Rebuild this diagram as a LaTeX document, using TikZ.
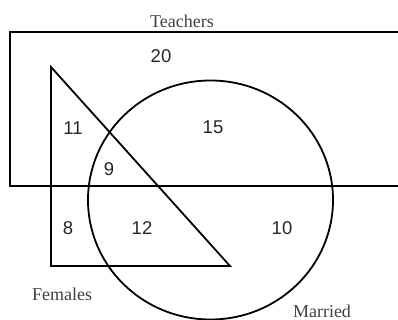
\documentclass[tikz,border=0pt]{standalone}
\usepackage{fontspec}
\setmainfont{Liberation Serif}
\newfontfamily\numfont{Liberation Sans}
\begin{document}
\begin{tikzpicture}[x=1pt,y=-1pt,
  shape line/.style={line width=1.8pt,black},
  setlabel/.style={font=\fontsize{18}{20}\selectfont, text=black!75, inner sep=0pt},
  count/.style={font=\numfont\fontsize{18.5}{20}\selectfont, text=black!85, inner sep=0pt}]
\useasboundingbox (0,0) rectangle (398,320);
\begin{scope}
\clip (0,0) rectangle (398,320);
% Teachers rectangle (right side runs off the picture)
\coordinate (rtr) at (402,32);
\coordinate (rtl) at (10,32);
\coordinate (rbl) at (10,186);
\coordinate (rbr) at (402,186);
\draw[shape line] (rtr) -- (rtl) -- (rbl) -- (rbr);
% Females triangle
\coordinate (ta) at (51,67);
\coordinate (tb) at (51,266);
\coordinate (tc) at (230,266);
\draw[shape line, line join=miter] (ta) -- (tb) -- (tc) -- cycle;
% Married circle
\coordinate (mc) at (210.5,200);
\draw[shape line] (mc) ellipse [x radius=122.5, y radius=119.5];
\end{scope}
% set labels
\node[setlabel] (teachers) at (182,21) {Teachers};
\node[setlabel] (females) at (62,294) {Females};
\node[setlabel] (married) at (322,311) {Married};
% region counts
\node[count] (n20) at (161,56) {20};
\node[count] (n11) at (73,128) {11};
\node[count] (n15) at (213,127) {15};
\node[count] (n9) at (109,169) {9};
\node[count] (n8) at (68,228) {8};
\node[count] (n12) at (142,228) {12};
\node[count] (n10) at (282,228) {10};
\end{tikzpicture}
\end{document}
